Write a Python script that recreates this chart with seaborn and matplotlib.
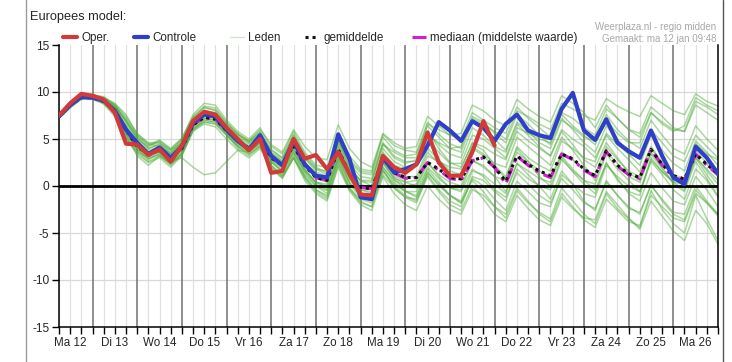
import numpy as np
import pandas as pd
import seaborn as sns
import matplotlib
matplotlib.use("Agg")
import matplotlib.pyplot as plt
from matplotlib.lines import Line2D
from matplotlib.ticker import FixedLocator

# ---------------- data ----------------
steps = np.arange(0.25, 15.001, 0.25)  # days since Ma 12 00:00, 6-hourly

day_labels = ["Ma 12", "Di 13", "Wo 14", "Do 15", "Vr 16", "Za 17", "Zo 18", "Ma 19",
              "Di 20", "Wo 21", "Do 22", "Vr 23", "Za 24", "Zo 25", "Ma 26"]

oper = [7.5, 8.8, 9.8, 9.6, 9.2, 7.8, 4.5, 4.4, 3.3, 3.9, 2.6, 4.3, 6.9, 7.9, 7.6, 6.2,
        5.0, 3.8, 5.0, 1.4, 1.6, 5.0, 2.9, 3.3, 1.8, 3.6, 1.3, -0.9, -1.0, 3.2, 2.0, 1.4,
        2.3, 5.7, 2.5, 1.1, 1.1, 3.6, 6.9, 4.3]

controle = [7.4, 8.6, 9.5, 9.4, 9.1, 8.0, 6.0, 4.6, 3.4, 4.1, 3.0, 4.2, 6.7, 7.6, 7.4, 6.0,
            4.8, 3.9, 5.4, 3.2, 2.2, 4.8, 2.3, 1.1, 0.9, 5.5, 2.9, -1.2, -1.4, 3.05, 1.45, 1.8,
            2.3, 4.3, 6.8, 5.9, 4.8, 6.9, 6.2, 4.8, 6.6, 7.6, 5.9, 5.4, 5.1, 8.2, 9.9, 5.9,
            4.9, 7.1, 4.6, 3.7, 3.0, 5.9, 3.2, 0.9, 0.2, 4.2, 3.0, 1.3]

gemiddelde = [7.4, 8.6, 9.4, 9.4, 9.0, 8.0, 6.0, 4.2, 3.4, 3.8, 3.0, 4.0, 6.5, 7.3, 7.1, 5.9,
              4.8, 4.0, 5.0, 3.0, 2.2, 4.3, 2.2, 0.9, 0.6, 3.9, 1.3, -0.15, -0.3, 2.9, 1.45, 0.9,
              0.9, 2.5, 1.8, 0.9, 0.75, 2.7, 3.1, 2.0, 0.5, 3.2, 2.3, 1.6, 1.1, 3.4, 2.9, 1.8,
              1.1, 3.75, 2.2, 1.3, 0.9, 3.9, 2.3, 1.1, 0.75, 3.4, 2.3, 1.3]

mediaan = [7.4, 8.6, 9.4, 9.4, 9.0, 8.0, 6.0, 4.2, 3.4, 3.8, 3.0, 4.0, 6.5, 7.3, 7.1, 5.9,
           4.8, 4.0, 5.0, 3.0, 2.2, 4.3, 2.2, 0.9, 0.6, 3.9, 1.3, -0.15, -0.3, 2.9, 1.4, 0.8,
           0.9, 2.5, 1.7, 0.8, 0.6, 2.7, 3.0, 2.0, 0.2, 3.2, 2.2, 1.4, 0.9, 3.4, 2.8, 1.7,
           1.0, 3.7, 2.1, 1.2, 0.8, 3.9, 2.2, 0.9, 0.6, 3.4, 2.2, 1.2]

leden = [
    [7.6, 8.9, 9.7, 9.5, 9.2, 8.5, 7.0, 5.0, 4.0, 4.5, 3.8, 4.6, 7.2, 8.4, 8.0, 6.6, 5.5, 4.8, 6.0, 4.4,
     3.6, 6.0, 4.2, 3.0, 2.8, 6.5, 4.0, 2.6, 2.0, 5.5, 4.3, 3.8, 3.6, 6.8, 5.5, 4.5, 4.0, 7.2, 6.6, 5.8,
     5.0, 8.0, 7.4, 6.6, 6.0, 8.8, 8.2, 7.5, 7.0, 9.3, 8.5, 7.9, 7.4, 9.6, 8.8, 8.0, 7.6, 9.8, 9.0, 8.5],
    [7.2, 8.3, 9.2, 9.3, 8.7, 7.4, 5.2, 3.4, 2.5, 3.0, 2.0, 3.2, 5.8, 6.6, 6.3, 5.0, 3.8, 3.0, 4.0, 1.8,
     0.8, 3.0, 0.6, -0.8, -1.6, 2.0, -0.5, -2.0, -2.6, 1.0, -0.8, -2.0, -2.6, 0.0, -1.4, -2.5, -3.0, -0.4, -1.0, -2.2,
     -3.4, -0.5, -1.8, -2.8, -3.5, -0.2, -1.6, -3.0, -4.0, -0.8, -2.4, -3.5, -4.4, -0.5, -2.5, -4.0, -5.0, -1.0, -3.5, -5.8],
    [7.5, 8.7, 9.5, 9.6, 9.4, 8.8, 7.6, 5.5, 4.5, 4.2, 3.5, 4.8, 7.0, 8.0, 7.8, 6.4, 5.2, 4.5, 5.6, 3.5,
     2.6, 5.0, 3.0, 1.5, 1.0, 5.0, 2.0, 0.5, 0.4, 4.5, 3.0, 2.4, 2.8, 5.8, 4.0, 2.5, 2.0, 4.5, 3.8, 2.2,
     1.0, 4.0, 2.6, 1.0, 0.0, 3.0, 1.5, 0.2, -0.8, 2.5, 0.6, -0.6, -1.0, 3.0, 1.5, 0.5, 0.8, 4.5, 3.4, 2.8],
    [7.3, 8.5, 9.3, 9.2, 8.8, 7.8, 5.6, 3.8, 2.8, 3.5, 2.5, 3.6, 6.0, 7.0, 6.8, 5.5, 4.3, 3.6, 4.6, 2.5,
     1.5, 3.6, 1.4, 0.0, -0.5, 2.8, 0.2, -1.2, -1.5, 2.0, 0.6, 0.0, 0.2, 3.2, 2.6, 2.0, 1.8, 4.6, 4.2, 3.4,
     2.8, 5.8, 4.8, 4.0, 3.2, 6.0, 5.0, 4.2, 3.0, 5.4, 4.0, 2.8, 1.5, 4.2, 2.5, 1.0, 0.0, 3.0, 1.2, -0.5],
    [7.4, 8.7, 9.6, 9.5, 9.3, 8.2, 6.4, 4.6, 3.6, 4.0, 3.2, 4.3, 6.8, 7.6, 7.4, 6.2, 5.0, 4.2, 5.2, 3.3,
     2.4, 4.6, 2.5, 1.2, 0.8, 4.2, 1.6, 0.2, -0.4, 2.5, 0.8, -0.5, -1.2, 1.5, 0.0, -1.0, -1.8, 0.8, 0.0, -1.4,
     -2.6, 0.5, -0.6, -1.8, -2.2, 1.2, 0.2, -0.8, -1.2, 2.2, 1.0, 0.0, -0.6, 2.8, 1.5, 0.4, -0.4, 3.0, 1.8, 0.6],
    [7.5, 8.8, 9.7, 9.7, 9.5, 8.6, 6.8, 5.0, 4.2, 4.8, 3.9, 5.0, 7.6, 8.8, 8.6, 7.0, 5.8, 5.0, 6.2, 4.2,
     3.4, 5.8, 3.6, 2.2, 2.0, 5.6, 3.2, 1.8, 1.6, 5.2, 3.8, 3.2, 3.4, 6.4, 5.2, 4.0, 3.6, 6.8, 6.2, 5.0,
     3.8, 6.8, 5.8, 4.6, 4.0, 7.0, 6.2, 5.2, 4.8, 7.6, 6.0, 4.8, 4.0, 7.0, 5.4, 4.0, 3.4, 6.4, 5.0, 3.8],
    [7.3, 8.4, 9.3, 9.3, 8.9, 7.6, 5.0, 3.6, 3.0, 3.4, 2.4, 3.5, 6.2, 7.2, 7.0, 5.6, 4.4, 3.7, 4.4, 2.0,
     1.0, 3.0, 1.0, -0.4, -1.0, 2.6, -0.2, -1.8, -2.2, 1.6, 0.2, -0.6, -0.6, 2.0, 0.8, -0.2, -0.4, 2.6, 2.2, 1.0,
     -0.6, 2.4, 1.2, 0.0, -1.4, 1.6, 0.2, -1.6, -2.6, 0.6, -1.0, -2.2, -3.0, 0.2, -1.6, -3.0, -3.6, -0.4, -1.8, -3.2],
    [7.6, 8.9, 9.8, 9.7, 9.4, 8.7, 7.4, 5.6, 4.6, 4.6, 3.4, 4.6, 7.0, 7.8, 7.6, 6.4, 5.4, 4.6, 5.4, 3.6,
     2.8, 5.2, 3.0, 1.8, 1.6, 4.8, 2.6, 1.4, 1.2, 4.6, 3.2, 2.6, 2.6, 5.0, 3.6, 2.4, 2.4, 5.4, 5.0, 4.0,
     3.0, 6.2, 5.6, 5.0, 4.6, 7.8, 7.2, 6.2, 5.4, 8.2, 7.2, 6.0, 5.6, 8.4, 7.4, 6.2, 5.8, 8.6, 7.8, 7.0],
    [7.4, 8.6, 9.5, 9.5, 9.1, 8.1, 5.8, 4.0, 3.2, 3.6, 2.6, 3.8, 6.4, 7.4, 7.2, 5.8, 4.6, 3.8, 4.8, 2.8,
     2.0, 4.0, 1.8, 0.4, 0.0, 3.4, 0.8, -0.8, -1.0, 2.4, 0.8, 0.4, 0.6, 3.6, 2.4, 1.2, 1.0, 4.0, 3.2, 2.0,
     0.8, 4.2, 3.0, 2.2, 1.6, 4.8, 4.0, 3.0, 2.6, 5.6, 4.4, 3.4, 3.0, 6.0, 4.6, 3.2, 2.6, 5.4, 4.2, 3.0],
    [7.3, 8.5, 9.4, 9.4, 9.0, 7.9, 5.4, 3.2, 2.2, 3.2, 2.4, 3.4, 6.0, 6.8, 6.6, 5.4, 4.2, 3.4, 4.2, 2.2,
     1.2, 3.4, 1.2, 0.0, -0.8, 3.0, 0.4, -1.0, -1.6, 1.8, -0.2, -1.2, -1.8, 1.2, -0.4, -1.6, -2.2, 1.0, 0.6, -0.6,
     -1.6, 1.8, 0.8, 0.0, -0.4, 2.8, 1.6, 0.6, 0.2, 3.4, 1.8, 0.6, -0.6, 2.6, 1.2, -0.4, -1.4, 1.8, 0.6, -1.2],
    [7.5, 8.7, 9.6, 9.6, 9.2, 8.3, 6.6, 4.8, 3.8, 4.2, 3.4, 4.4, 6.9, 7.8, 7.5, 6.1, 4.9, 4.1, 5.0, 3.1,
     2.2, 4.4, 2.2, 0.8, 0.4, 4.0, 1.4, 0.0, 0.0, 3.6, 2.2, 1.8, 2.2, 5.4, 4.6, 4.0, 4.2, 7.4, 6.8, 5.6,
     4.6, 7.6, 6.6, 5.4, 4.4, 7.2, 6.0, 4.6, 3.6, 6.4, 5.0, 3.4, 2.2, 5.4, 3.8, 2.4, 1.6, 4.8, 3.6, 2.2],
    [7.4, 8.6, 9.4, 9.3, 8.9, 7.7, 5.5, 3.9, 3.1, 3.7, 2.8, 3.9, 6.6, 7.4, 7.2, 6.0, 4.7, 3.9, 4.9, 2.8,
     1.8, 4.0, 1.8, 0.4, 0.2, 3.6, 1.0, -0.4, -0.6, 2.8, 1.2, 0.4, 0.0, 2.6, 1.0, -0.2, -0.6, 1.8, 1.0, -0.4,
     -1.2, 1.4, 0.2, -1.0, -1.8, 0.8, -0.4, -1.8, -2.4, 0.4, -1.0, -2.4, -2.8, 0.0, -1.4, -2.8, -3.0, 0.0, -1.6, -3.0],
    [7.5, 8.8, 9.6, 9.5, 9.1, 8.4, 6.9, 5.2, 4.0, 4.4, 3.6, 4.5, 7.1, 8.0, 7.7, 6.3, 5.0, 4.3, 5.3, 3.4,
     2.6, 4.8, 2.6, 1.2, 0.8, 4.4, 1.8, 0.6, 0.6, 4.0, 2.6, 2.0, 2.4, 5.6, 4.4, 3.4, 3.0, 6.2, 5.4, 4.2,
     3.6, 6.6, 5.4, 4.2, 3.2, 5.8, 4.4, 2.8, 2.0, 4.6, 3.0, 1.4, 0.6, 3.6, 2.0, 0.2, -0.6, 2.6, 0.8, -1.0],
    [7.2, 8.4, 9.3, 9.4, 9.0, 7.6, 5.2, 3.6, 2.6, 3.2, 2.2, 3.3, 5.9, 6.8, 6.6, 5.4, 4.0, 3.2, 4.2, 2.0,
     0.9, 3.0, 0.8, -0.6, -1.4, 2.2, -0.4, -1.6, -2.2, 1.2, -0.2, -1.2, -1.4, 1.4, 0.2, -1.0, -1.6, 1.6, 1.2, 0.2,
     -0.8, 2.4, 1.6, 0.8, 0.4, 3.6, 2.8, 1.8, 1.2, 4.2, 2.8, 1.6, 1.0, 4.0, 2.4, 1.2, 0.8, 3.8, 2.4, 1.0],
    [7.4, 8.6, 9.5, 9.4, 9.0, 7.9, 5.9, 4.1, 3.3, 3.9, 3.1, 4.1, 6.4, 7.2, 7.0, 5.8, 4.6, 3.8, 4.7, 2.6,
     1.6, 3.8, 1.6, 0.2, -0.4, 3.0, 0.4, -1.0, -1.4, 2.0, 0.4, -0.6, -1.0, 1.8, 0.4, -1.0, -1.8, 0.6, -0.6, -2.2,
     -3.0, -0.2, -1.6, -3.0, -3.8, -0.8, -2.2, -3.6, -4.4, -1.4, -2.6, -3.8, -4.2, -1.0, -2.2, -3.4, -3.8, -0.8, -1.8, -3.0],
    [7.6, 8.8, 9.7, 9.6, 9.3, 8.6, 7.2, 5.4, 4.4, 4.9, 4.0, 5.1, 7.4, 8.5, 8.3, 6.8, 5.6, 4.8, 5.8, 3.9,
     3.0, 5.5, 3.4, 2.0, 1.4, 5.2, 2.8, 1.6, 1.4, 5.6, 4.6, 4.0, 4.2, 7.4, 6.4, 5.4, 5.0, 7.8, 7.0, 6.2,
     5.6, 8.4, 7.2, 6.2, 5.2, 7.6, 6.4, 5.4, 4.4, 7.0, 5.6, 4.6, 4.6, 7.8, 6.8, 6.0, 5.8, 9.0, 8.4, 7.6],
    [7.4, 8.7, 9.6, 9.5, 9.2, 8.2, 6.2, 4.4, 3.4, 3.6, 2.6, 3.0, 2.0, 1.2, 1.4, 2.6, 3.8, 3.6, 4.6, 2.6,
     1.6, 3.6, 1.6, 0.4, -0.2, 3.2, 0.8, -0.4, -0.8, 2.6, 1.0, 0.0, -0.2, 2.4, 1.2, 0.4, 0.0, 2.8, 2.0, 1.0,
     0.6, 3.6, 2.6, 1.6, 1.0, 3.2, 1.8, 0.6, -0.4, 2.4, 0.8, -0.8, -1.6, 1.4, -0.2, -1.6, -2.0, 1.0, -0.4, -2.2],
    [7.5, 8.8, 9.6, 9.6, 9.3, 8.5, 7.0, 5.3, 4.3, 4.7, 3.8, 4.9, 7.3, 8.3, 8.1, 6.7, 5.5, 4.7, 5.7, 3.8,
     3.0, 5.4, 3.2, 1.8, 1.2, 4.8, 2.4, 1.0, 0.8, 4.4, 3.6, 3.0, 3.0, 6.6, 6.0, 5.4, 5.6, 8.6, 8.0, 7.0,
     6.4, 9.2, 8.2, 7.4, 6.8, 9.6, 8.8, 7.8, 6.2, 8.6, 7.2, 6.0, 5.2, 7.8, 6.6, 5.8, 6.4, 9.4, 8.6, 8.0],
    [7.3, 8.5, 9.4, 9.4, 8.9, 7.8, 5.6, 3.9, 2.9, 3.3, 2.3, 3.4, 6.1, 7.0, 6.8, 5.6, 4.2, 3.4, 4.3, 2.2,
     1.1, 3.2, 1.0, -0.4, -1.2, 2.4, -0.2, -1.4, -1.8, 1.6, 0.0, -1.0, -1.6, 1.0, -0.6, -2.0, -2.6, 0.0, -1.4, -3.0,
     -3.8, -1.0, -2.4, -3.6, -4.2, -1.2, -2.4, -3.4, -3.6, -0.6, -2.0, -3.4, -4.6, -1.6, -3.2, -4.8, -5.8, -2.6, -4.0, -6.2],
    [7.4, 8.7, 9.5, 9.5, 9.2, 8.3, 6.3, 4.5, 3.5, 4.0, 3.1, 4.2, 6.7, 7.6, 7.3, 6.0, 4.8, 4.0, 5.1, 3.1,
     2.2, 4.4, 2.3, 1.0, 0.6, 4.6, 2.0, 0.6, 0.0, 3.4, 1.8, 1.0, 1.0, 4.0, 2.8, 1.6, 1.2, 4.2, 3.4, 2.4,
     2.0, 5.2, 4.2, 3.2, 2.2, 5.2, 3.8, 2.2, 0.6, 3.6, 2.4, 1.0, 0.4, 3.4, 1.8, 0.4, 0.2, 3.2, 1.6, 0.2],
]

legend_names = ["Oper.", "Controle", "Leden", "gemiddelde", "mediaan (middelste waarde)"]

# ---------------- tables ----------------
df_leden = pd.DataFrame(
    [(steps[i], v, m) for m, row in enumerate(leden) for i, v in enumerate(row)],
    columns=["dag", "temp", "lid"])
df_oper = pd.DataFrame({"dag": steps[:len(oper)], "temp": oper})
df_ctrl = pd.DataFrame({"dag": steps, "temp": controle})
df_mean = pd.DataFrame({"dag": steps, "temp": gemiddelde})
df_med = pd.DataFrame({"dag": steps, "temp": mediaan})

# ---------------- style ----------------
sns.set_theme(style="white")
plt.rcParams["font.family"] = ["Liberation Sans", "DejaVu Sans"]
plt.rcParams["axes.unicode_minus"] = False

W, H = 732, 362
fig = plt.figure(figsize=(W / 100, H / 100), dpi=100)
fig.patch.set_facecolor("white")
ax = fig.add_axes([59 / W, 1 - 327 / H, (718 - 59) / W, (327 - 45) / H])
ax.set_facecolor("white")

green = "#4fae3a"
red = "#d23a3a"
blue = "#2f3fc8"
magenta = "#d020d0"
dots = (0, (1, 1.3))
dashdot = (0, (5, 2, 1, 2))

# grid lines
for k in range(60):
    xv = 0.25 + 0.25 * k
    if abs(xv - round(xv)) < 1e-6 and 0 < xv < 15:
        ax.axvline(xv, color="#707070", lw=1.1, zorder=1)
    else:
        ax.axvline(xv, color="#e0e0e0", lw=0.9, zorder=0.5)
for yv in (-10, -5, 5, 10):
    ax.axhline(yv, color="#d8d8d8", lw=0.9, zorder=0.5)

sns.lineplot(data=df_leden, x="dag", y="temp", units="lid", estimator=None,
             color=green, alpha=0.48, lw=1.1, ax=ax, legend=False, zorder=2)

ax.axhline(0, color="black", lw=2.0, zorder=3)

sns.lineplot(data=df_med, x="dag", y="temp", color=magenta, lw=2.2,
             linestyle=dashdot, ax=ax, zorder=4)
sns.lineplot(data=df_mean, x="dag", y="temp", color="#111111", lw=2.2,
             linestyle=dots, ax=ax, zorder=5)
sns.lineplot(data=df_ctrl, x="dag", y="temp", color=blue, lw=3.0, ax=ax, zorder=6)
sns.lineplot(data=df_oper, x="dag", y="temp", color=red, lw=3.0, ax=ax, zorder=7)

ax.set_xlim(0.25, 15.0)
ax.set_ylim(-15, 15)
ax.set_xlabel("")
ax.set_ylabel("")

# ticks
tick_pos = [0.25 + 0.25 * k for k in range(60)]
labels = []
for p in tick_pos:
    if abs(p - round(p - 0.5) - 0.5) < 1e-6:
        labels.append(day_labels[int(round(p - 0.5))])
    else:
        labels.append("")
ax.xaxis.set_major_locator(FixedLocator(tick_pos))
ax.set_xticklabels(labels, fontsize=8.4)
ax.set_yticks([-15, -10, -5, 0, 5, 10, 15])
ax.set_yticklabels(["-15", "-10", "-5", "0", "5", "10", "15"], fontsize=8.6)
ax.tick_params(axis="x", direction="out", length=5, width=1, color="black", pad=2, bottom=True)
ax.tick_params(axis="y", direction="out", length=5, width=1, color="black", pad=2, left=True)

for s in ("left", "bottom", "right"):
    ax.spines[s].set_visible(True)
    ax.spines[s].set_color("black")
    ax.spines[s].set_linewidth(1.1)
ax.spines["top"].set_visible(False)

# legend (one entry per item, placed like the reference)
handles = [
    Line2D([], [], color=red, lw=3.0),
    Line2D([], [], color=blue, lw=3.0),
    Line2D([], [], color="#cfe6c8", lw=1.0),
    Line2D([], [], color="#111111", lw=2.2, linestyle=dots),
    Line2D([], [], color=magenta, lw=2.2, linestyle=dashdot),
]
legend_x = [63, 134, 230, 305, 412]
for h, name, lx in zip(handles, legend_names, legend_x):
    fig.legend([h], [name], loc="center left", bbox_to_anchor=(lx / W, 1 - 38 / H),
               frameon=False, fontsize=8.4, handlelength=1.2, handletextpad=0.35,
               borderpad=0, borderaxespad=0)

fig.text(30 / W, 1 - 17 / H, "Europees model:", fontsize=9.2, va="center", ha="left")
fig.text(716 / W, 1 - 27 / H, "Weerplaza.nl - regio midden", fontsize=7, color="#a8a8a8",
         va="center", ha="right")
fig.text(716 / W, 1 - 39 / H, "Gemaakt: ma 12 jan 09:48", fontsize=7, color="#a8a8a8",
         va="center", ha="right")

# page frame lines
fig.add_artist(Line2D([26 / W, 26 / W], [0, 1], color="#9a9a9a", lw=1))
fig.add_artist(Line2D([723 / W, 723 / W], [0, 1], color="#555555", lw=1))

fig.savefig("out.png", dpi=100, facecolor="white")
